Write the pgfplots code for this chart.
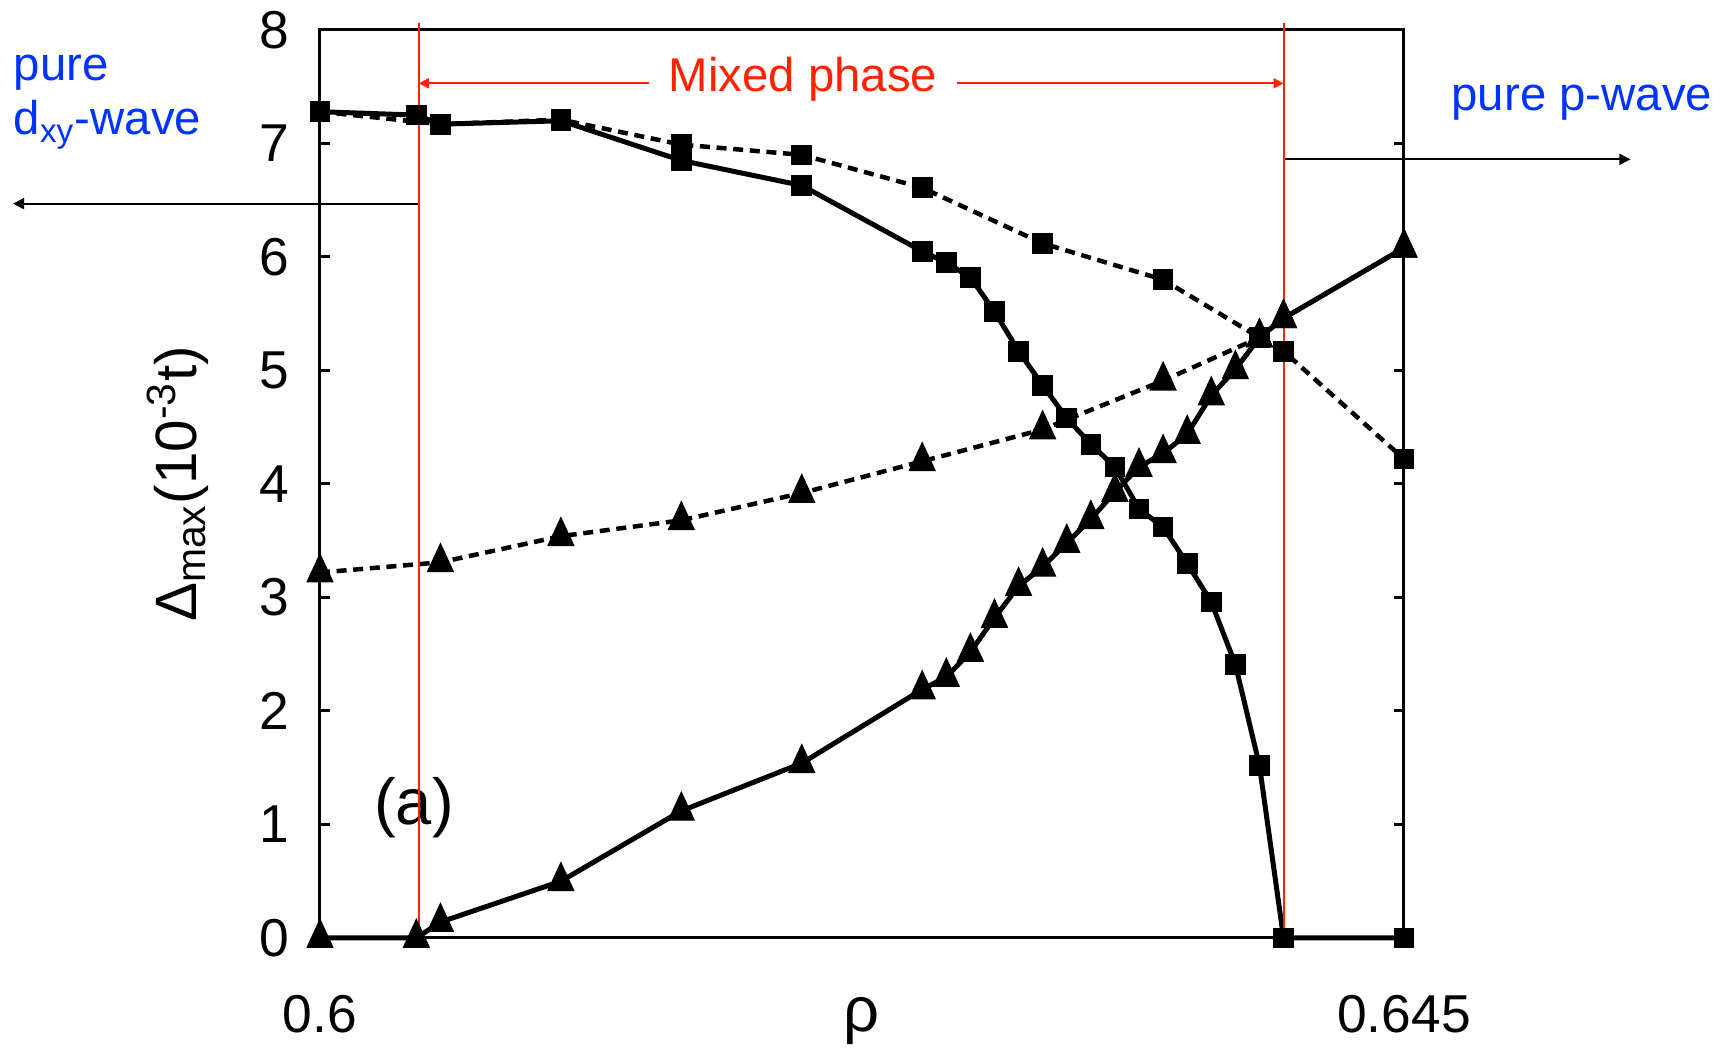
\documentclass[border=0pt]{standalone}
\usepackage{fontspec}
\setmainfont{Liberation Sans}
\usepackage{pgfplots}
\pgfplotsset{compat=1.18}
\usetikzlibrary{arrows.meta}
\definecolor{myred}{RGB}{255,34,0}
\definecolor{myblue}{RGB}{0,51,255}
\begin{document}
\begin{tikzpicture}
\useasboundingbox (-96pt,-33.9pt) rectangle (423.3pt,281.4pt);
\begin{axis}[
  at={(0,0)}, anchor=south west,
  scale only axis, width=325.2pt, height=272.4pt,
  xmin=0.6, xmax=0.645, ymin=0, ymax=8,
  xtick={0.6,0.645}, xticklabels={0.6,0.645},
  ytick={0,1,2,3,4,5,6,7,8},
  axis line style={line width=0.9pt},
  major tick length=3pt,
  tick style={line width=0.9pt, black},
  x tick style={draw=none},
  /pgf/number format/assume math mode=true,
  tick label style={font=\fontsize{16}{19}\selectfont},
  yticklabel style={inner sep=0pt, xshift=-9pt},
  xticklabel style={anchor=base, inner sep=0pt, yshift=-28.5pt},
  xlabel={ρ},
  ylabel={Δ\textsubscript{max}(10\textsuperscript{-3}t)},
  xlabel style={font=\fontsize{19}{22}\selectfont, at={(axis description cs:0.5,-0.0914)}, anchor=center},
  ylabel style={font=\fontsize{17.5}{21}\selectfont, at={(axis description cs:-0.131,0.5)}, anchor=center},
  clip=false,
]
% solid squares
\addplot[black, line width=1.5pt, mark=square*, mark size=2.9pt, mark options={line width=0.4pt}] coordinates {
(0.600,7.28)(0.604,7.25)(0.605,7.17)(0.610,7.20)(0.615,6.85)(0.620,6.63)(0.625,6.05)(0.626,5.95)(0.627,5.82)(0.628,5.52)(0.629,5.17)(0.630,4.87)(0.631,4.58)(0.632,4.35)(0.633,4.15)(0.634,3.78)(0.635,3.62)(0.636,3.30)(0.637,2.96)(0.638,2.41)(0.639,1.52)(0.640,0)(0.645,0)};
% solid triangles
\addplot[black, line width=1.5pt, mark=triangle*, mark size=4.4pt, mark options={line width=0.4pt, yscale=1.25}] coordinates {
(0.600,0)(0.604,0)(0.605,0.14)(0.610,0.50)(0.615,1.12)(0.620,1.54)(0.625,2.19)(0.626,2.30)(0.627,2.52)(0.628,2.82)(0.629,3.10)(0.630,3.27)(0.631,3.48)(0.632,3.69)(0.633,3.93)(0.634,4.15)(0.635,4.27)(0.636,4.44)(0.637,4.78)(0.638,5.01)(0.639,5.29)(0.640,5.46)(0.645,6.08)};
% dashed squares
\addplot[black, line width=1.35pt, dash pattern=on 3pt off 2pt, mark=square*, mark size=2.9pt, mark options={solid, line width=0.4pt}] coordinates {
(0.600,7.28)(0.605,7.17)(0.610,7.21)(0.615,6.99)(0.620,6.90)(0.625,6.61)(0.630,6.12)(0.635,5.80)(0.639,5.29)(0.640,5.17)(0.645,4.22)};
% dashed triangles
\addplot[black, line width=1.35pt, dash pattern=on 3pt off 2pt, mark=triangle*, mark size=4.4pt, mark options={solid, line width=0.4pt, yscale=1.25}] coordinates {
(0.600,3.22)(0.605,3.31)(0.610,3.54)(0.615,3.68)(0.620,3.92)(0.625,4.20)(0.630,4.48)(0.635,4.91)(0.639,5.29)(0.640,5.46)(0.645,6.08)};

\node[font=\fontsize{19.5}{23}\selectfont, inner sep=0pt] at (axis cs:0.6039,1.145) {(a)};

\draw[line width=0.6pt, -{Triangle[length=3.3pt,width=3.3pt]}] (axis cs:0.6041,6.47) -- (axis cs:0.58726,6.47);
\draw[line width=0.6pt, -{Triangle[length=3.3pt,width=3.3pt]}] (axis cs:0.640,6.86) -- (axis cs:0.6544,6.86);

\draw[myred, line width=0.6pt] (axis cs:0.6041,8.06) -- (axis cs:0.6041,-0.05);
\draw[myred, line width=0.6pt] (axis cs:0.640,8.06) -- (axis cs:0.640,-0.05);
\draw[myred, line width=0.6pt, {Triangle[length=3pt,width=3pt]}-{Triangle[length=3pt,width=3pt]}] (axis cs:0.6041,7.53) -- (axis cs:0.640,7.53);
\node[fill=white, inner xsep=6pt, inner ysep=1pt, anchor=base, text=myred, font=\fontsize{14.2}{17}\selectfont] at (axis cs:0.62005,7.454) {Mixed phase};

\node[anchor=base west, text=myblue, inner sep=0pt, font=\fontsize{14.2}{17}\selectfont] at (axis cs:0.58726,7.559) {pure};
\node[anchor=base west, text=myblue, inner sep=0pt, font=\fontsize{14.2}{17}\selectfont] at (axis cs:0.58726,7.075) {d\textsubscript{xy}-wave};
\node[anchor=base west, text=myblue, inner sep=0pt, font=\fontsize{14.2}{17}\selectfont] at (axis cs:0.64695,7.295) {pure p-wave};
\end{axis}
\end{tikzpicture}
\end{document}
